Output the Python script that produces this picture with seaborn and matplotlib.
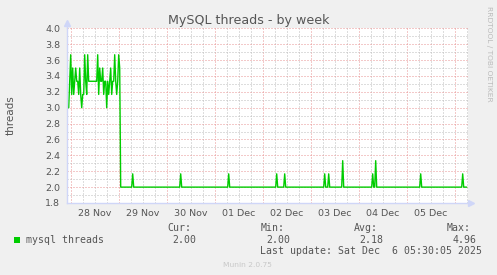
import numpy as np
import pandas as pd
import matplotlib
matplotlib.use("Agg")
import matplotlib.pyplot as plt
import matplotlib.dates as mdates
from matplotlib.ticker import MultipleLocator, FuncFormatter, NullFormatter, FormatStrFormatter
from matplotlib.patches import Rectangle
import seaborn as sns

# ---------------- data ----------------
start_time = "2025-11-27 22:00"
step = "30min"
n_points = 401
baseline_value = 2.0
early_values = [3.0, 3.0, 3.0, 3.333, 3.667, 3.167, 3.5, 3.167, 3.333, 3.5,
                3.333, 3.333, 3.167, 3.5, 3.167, 3.0, 3.167, 3.167, 3.667, 3.333,
                3.167, 3.667, 3.333, 3.333, 3.333, 3.333, 3.333, 3.333, 3.333, 3.333,
                3.333, 3.667, 3.167, 3.5, 3.333, 3.333, 3.5, 3.167, 3.333, 3.333,
                3.0, 3.333, 3.167, 3.333, 3.5, 3.167, 3.333, 3.333, 3.667, 3.333,
                3.167, 3.333, 3.667, 3.5]
spike_times = ["2025-11-29 07:00", "2025-11-30 07:00", "2025-12-01 07:00",
               "2025-12-02 07:00", "2025-12-02 11:00", "2025-12-03 07:00",
               "2025-12-03 09:00", "2025-12-03 16:00", "2025-12-04 07:00",
               "2025-12-04 08:30", "2025-12-05 07:00", "2025-12-06 04:00"]
spike_values = [2.167, 2.167, 2.167, 2.167, 2.167, 2.167,
                2.167, 2.333, 2.167, 2.333, 2.167, 2.167]
x_start = "2025-11-27 22:00"
x_end = "2025-12-06 06:30"
y_min, y_max = 1.8, 4.0
legend_label = "mysql threads"
stats_headers = ["Cur:", "Min:", "Avg:", "Max:"]
stats_values = ["2.00", "2.00", "2.18", "4.96"]

times = pd.date_range(start_time, periods=n_points, freq=step)
values = np.full(n_points, baseline_value)
values[:len(early_values)] = early_values
for t, v in zip(spike_times, spike_values):
    values[times.get_loc(pd.Timestamp(t))] = v
df = pd.DataFrame({"time": times, "threads": values})

# ---------------- style ----------------
sns.set_style("white")
plt.rcParams["font.family"] = ["DejaVu Sans"]
plt.rcParams["lines.scale_dashes"] = False

W, H = 497, 275
BG = "#F0F0F0"
FONT = "#555555"
AXIS = "#CFD6F8"
MGRID = "#E89494"
GRID = "#BDBDBD"
GREEN = "#00CC00"
DOT = (0, (0.72, 1.44))

fig = plt.figure(figsize=(W / 100, H / 100), dpi=100, facecolor=BG)
L, R, T, B = 66.7, 467.7, 28.3, 203.0
ax = fig.add_axes([L / W, 1 - B / H, (R - L) / W, (B - T) / H])
ax.set_facecolor("white")

sns.lineplot(data=df, x="time", y="threads", ax=ax, color=GREEN, linewidth=1.0)

ax.set_xlim(pd.Timestamp(x_start), pd.Timestamp(x_end))
ax.set_ylim(y_min, y_max)

# y axis
ax.yaxis.set_major_locator(MultipleLocator(0.2))
ax.yaxis.set_minor_locator(MultipleLocator(0.1))
ax.yaxis.set_major_formatter(FormatStrFormatter("%.1f"))

# x axis
ax.xaxis.set_major_locator(mdates.HourLocator(byhour=[0]))
ax.xaxis.set_minor_locator(mdates.HourLocator(byhour=[6, 12, 18]))
ax.xaxis.set_major_formatter(NullFormatter())

def day_label(x, pos):
    d = mdates.num2date(x)
    return d.strftime("%d %b") if d.hour == 12 else ""

ax.xaxis.set_minor_formatter(FuncFormatter(day_label))

ax.grid(which="major", color=MGRID, linestyle=DOT, linewidth=0.72)
ax.grid(which="minor", color=GRID, linestyle=DOT, linewidth=0.72)
ax.set_axisbelow(True)

ax.tick_params(axis="both", which="major", length=1.5, width=0.72, color=MGRID,
               labelsize=6.8, labelcolor=FONT)
ax.tick_params(axis="both", which="minor", length=1.5, width=0.72, color=GRID,
               labelsize=6.8, labelcolor=FONT)
ax.tick_params(axis="y", which="both", pad=3.3)
ax.tick_params(axis="x", which="both", pad=2.6)

for s in ["top", "right"]:
    ax.spines[s].set_visible(False)
for s in ["left", "bottom"]:
    ax.spines[s].set_color(AXIS)
    ax.spines[s].set_linewidth(1.0)

ax.set_xlabel("")
ax.set_ylabel("")

# axis arrows
ax.plot([0, 0], [1, 1.02], transform=ax.transAxes, color=AXIS, lw=1.0, clip_on=False)
ax.plot([0], [1.028], transform=ax.transAxes, marker="^", color=AXIS,
        markersize=4.2, clip_on=False)
ax.plot([1, 1.004], [0, 0], transform=ax.transAxes, color=AXIS, lw=1.0, clip_on=False)
ax.plot([1.0077], [0], transform=ax.transAxes, marker=">", color=AXIS,
        markersize=4.2, clip_on=False)

def fx(x):
    return x / W

def fy(y):
    return 1 - y / H

# title and labels
fig.text(fx(248.5), fy(24), "MySQL threads - by week", ha="center", va="baseline",
         fontsize=9.1, color=FONT)
fig.text(fx(11), fy(115.5), "threads", rotation=90, ha="center", va="center",
         fontsize=7.5, color=FONT)
fig.text(fx(489), fy(53.5), "RRDTOOL / TOBI OETIKER", rotation=270, ha="center",
         va="center", fontsize=5.4, color="#BBBBBB")

# legend
fig.patches.append(Rectangle((fx(14), fy(242.7)), 6 / W, 6 / H, transform=fig.transFigure,
                             facecolor=GREEN, edgecolor="none"))
mono = "DejaVu Sans Mono"
fig.text(fx(25.5), fy(243), legend_label, family=mono, fontsize=7.1, color=FONT,
         ha="left", va="baseline")
head_x = [167.2, 260.2, 353.7, 446.2]
val_x = [172.8, 266.2, 359.7, 452.7]
for hx, vx, h, v in zip(head_x, val_x, stats_headers, stats_values):
    fig.text(fx(hx), fy(231), h, family=mono, fontsize=7.1, color=FONT,
             ha="left", va="baseline")
    fig.text(fx(vx), fy(243), v, family=mono, fontsize=7.1, color=FONT,
             ha="left", va="baseline")
fig.text(fx(260.5), fy(254.5), "Last update: Sat Dec  6 05:30:05 2025", family=mono,
         fontsize=7.1, color=FONT, ha="left", va="baseline")
fig.text(fx(247.5), fy(266.7), "Munin 2.0.75", ha="center", va="baseline",
         fontsize=5.4, color="#C8C8C8")

fig.savefig("out.png", dpi=100, facecolor=BG)
